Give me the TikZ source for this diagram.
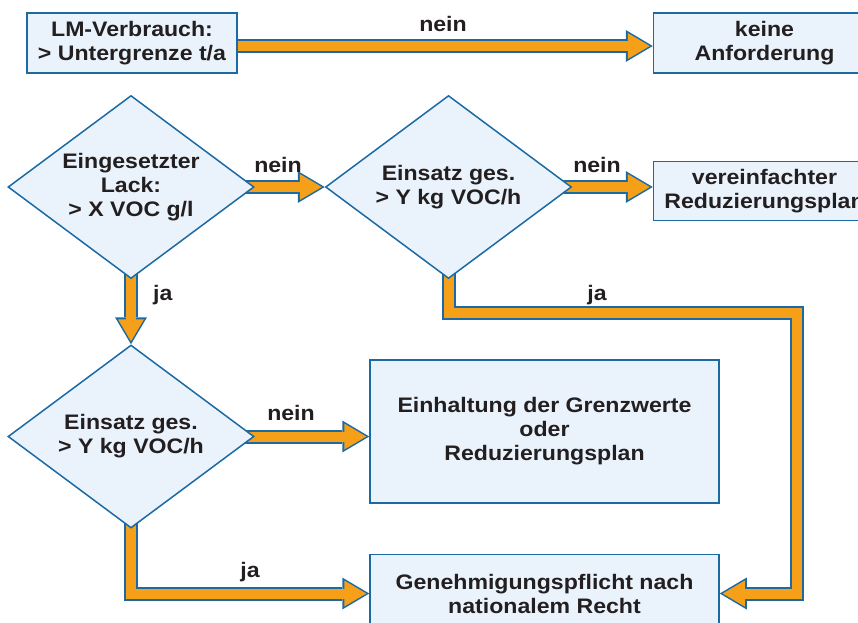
\documentclass[tikz,border=0pt]{standalone}
\usepackage{fontspec}
\setmainfont{Liberation Sans}[FakeStretch=1.1]
\usetikzlibrary{positioning,shapes.geometric,arrows.meta,backgrounds}

\definecolor{boxblue}{HTML}{EAF3FB}
\definecolor{rimblue}{HTML}{1B6AA3}
\definecolor{flowor}{HTML}{F6A01A}
\definecolor{inkgray}{HTML}{231F20}

\begin{document}
\begin{tikzpicture}[x=1pt, y=-1pt, font=\fontsize{21}{24}\selectfont\bfseries, text=inkgray]
    \tikzset{box/.style={draw=rimblue, fill=boxblue, line width=1.5pt, align=center, inner sep=0pt},
      test/.style={diamond, aspect=1.344, draw=rimblue, fill=boxblue, line width=1.5pt,
        align=center, inner sep=0pt, minimum width=246pt, minimum height=183pt},
      flow/.style={draw=flowor, line width=10pt, line join=miter,
        -{Triangle[length=22pt, width=26pt, line width=0pt]}, shorten >=3pt,
        preaction={draw=rimblue, line width=14pt, -{Triangle[length=27pt, width=32pt, line width=0pt]}, shorten >=0pt},
        postaction={draw=flowor, line width=10pt, -, shorten >=22pt}},
      answer/.style={inner sep=0pt, anchor=base}
    }
    \useasboundingbox (0,0) rectangle (858,622);

    \node[box, minimum width=210pt, minimum height=60pt] (lm) at (132,43) {LM-Verbrauch:\\> Untergrenze t/a};
    \node[box, minimum width=222pt, minimum height=60pt] (keine) [right=415pt of lm] {keine\\Anforderung};
    \node[box, minimum width=222pt, minimum height=59pt] (vereinf) [below=87pt of keine] {vereinfachter\\Reduzierungsplan};

    \node[test] (lack) at (131,187) {Eingesetzter\\Lack:\\> X VOC g/l};
    \node[test] (ges1) [right=70pt of lack] {Einsatz ges.\\> Y kg VOC/h};
    \node[test] (ges2) [below=65pt of lack] {Einsatz ges.\\> Y kg VOC/h};

    \node[box, minimum width=349pt, minimum height=143pt] (einh) at (544.5,431.5) {Einhaltung der Grenzwerte\\oder\\Reduzierungsplan};
    \node[box, minimum width=349pt, minimum height=78pt] (gen) [below=50pt of einh] {Genehmigungspflicht nach\\nationalem Recht};

    \coordinate (turn) at (797,312.5);

    % arrows behind the shapes
    \begin{scope}[on background layer]
      \draw[flow] ([yshift=-3pt]lm.east) -- ([yshift=-3pt]keine.west);
      \draw[flow] (lack.center) -- (ges1.west);
      \draw[flow] (ges1.center) -- (ges1.center -| vereinf.west);
      \draw[flow] (lack.center) -- (ges2.north);
      \draw[flow] (ges1.center) |- (turn) |- (gen.east);
      \draw[flow] (ges2.center) -- (ges2.center -| einh.west);
      \draw[flow] (ges2.center) |- (gen.west);
    \end{scope}

    \node[answer] (nein1) at (443,31) {nein};
    \node[answer] (nein2) at (278,172) {nein};
    \node[answer] (nein3) at (597,172) {nein};
    \node[answer] (nein4) at (291,420) {nein};
    \node[answer, anchor=base west] (ja1) at (153,300) {ja};
    \node[answer] (ja2) at (597,300) {ja};
    \node[answer] (ja3) at (250,577) {ja};
\end{tikzpicture}
\end{document}
